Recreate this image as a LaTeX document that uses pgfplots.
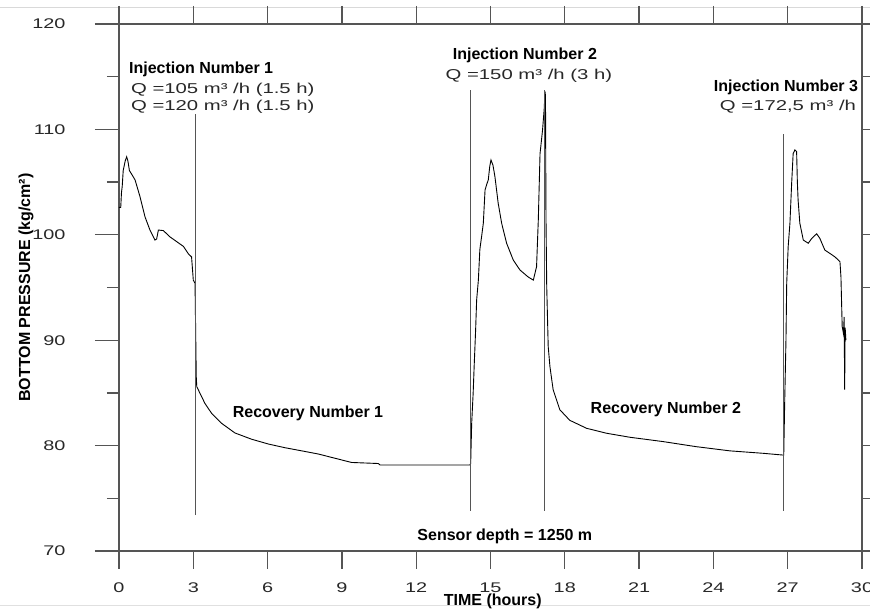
\documentclass[border=0pt]{standalone}
\usepackage{fontspec}
\setmainfont{Liberation Sans}
\newfontfamily\widefont[FakeStretch=1.42]{Liberation Sans}
\usepackage{pgfplots}
\pgfplotsset{compat=1.18}
\definecolor{axgray}{RGB}{85,85,85}
\definecolor{txtgray}{RGB}{40,40,40}
\begin{document}
\begin{tikzpicture}
\useasboundingbox (-119pt,-58pt) rectangle (751pt,551pt);
\clip (-119pt,-58pt) rectangle (751pt,551pt);
\fill[white] (-119pt,-58pt) rectangle (751pt,551pt);
\draw[black!15, line width=1pt] (-119pt,543pt) -- (751pt,543pt);
\draw[black!12, line width=1pt] (-119pt,-55pt) -- (751pt,-55pt);
\begin{axis}[
  at={(0pt,0pt)}, anchor=south west,
  scale only axis, width=743pt, height=527pt,
  xmin=0, xmax=30, ymin=70, ymax=120,
  xtick={0,3,...,30}, ytick={70,80,...,120},
  minor ytick={75,85,...,115},
  tick align=outside,
  axis line style={axgray, line width=1.3pt},
  every tick/.style={axgray, line width=1.3pt},
  major tick length=18pt, minor tick length=12pt,
  ytick style={/pgfplots/major tick length=24pt, /pgfplots/minor tick length=12pt},
  /pgf/number format/assume math mode=true,
  ticklabel style={font=\widefont\fontsize{14}{16}\selectfont, text=txtgray},
  yticklabel style={anchor=east, xshift=-32pt},
  xticklabel style={anchor=north, yshift=-10pt},
  xlabel={TIME (hours)},
  ylabel={BOTTOM PRESSURE (kg/cm²)},
  every axis x label/.style={at={(axis description cs:0.503,0)}, anchor=base, yshift=-55pt, font=\bfseries\fontsize{16}{19}\selectfont, text=black},
  every axis y label/.style={at={(axis description cs:-0.125,0.5)}, rotate=90, anchor=center, font=\bfseries\fontsize{16}{19}\selectfont, text=black},
  clip=false,
]
\addplot[black, line width=0.9pt] coordinates {
(0,102.6)(0.07,102.6)(0.1,104.0)(0.13,104.6)(0.17,106.1)(0.25,107.0)(0.31,107.4)(0.36,107.0)(0.42,106.1)(0.55,105.6)(0.65,105.2)(0.85,103.6)(1.05,101.7)(1.25,100.45)(1.45,99.5)(1.52,99.6)(1.59,100.45)(1.79,100.4)(2.06,99.8)(2.33,99.35)(2.6,98.9)(2.8,98.2)(2.93,97.9)(3.0,95.7)(3.07,95.4)(3.1,90)(3.12,86.5)(3.14,85.6)(3.27,84.96)(3.47,84.0)(3.74,83.06)(4.15,82.1)(4.68,81.2)(5.36,80.6)(6.03,80.15)(6.7,79.8)(7.38,79.5)(8.05,79.2)(8.72,78.8)(9.39,78.4)(10.47,78.3)(10.54,78.16)(14.17,78.16)
(14.2,78.3)(14.21,79.3)(14.24,82.1)(14.3,85.0)(14.34,87.5)(14.4,91.0)(14.44,93.8)(14.51,95.7)(14.57,98.6)(14.65,100.0)(14.71,101.1)(14.78,104.25)(14.85,104.8)(14.91,105.2)(14.97,106.5)(15.02,107.1)(15.1,106.6)(15.18,105.5)(15.31,103.0)(15.45,101.1)(15.65,99.2)(15.92,97.6)(16.19,96.66)(16.52,96.0)(16.73,95.7)(16.86,96.98)(16.93,101.4)(17.0,107.7)(17.1,109.9)(17.17,112.0)(17.2,113.6)(17.22,113.2)(17.24,101.7)(17.27,95.1)(17.33,89.4)(17.4,87.5)(17.47,86.3)(17.53,85.3)(17.8,83.4)(18.2,82.4)(18.88,81.64)(19.69,81.17)(20.63,80.79)(21.97,80.38)(23.3,79.9)(24.67,79.5)(26.0,79.27)(26.82,79.1)
(26.84,79.1)(26.88,84.3)(26.93,90)(26.96,95.4)(27.02,98.9)(27.09,101.1)(27.16,104.9)(27.22,107.7)(27.29,108.05)(27.36,107.9)(27.39,105)(27.42,103.3)(27.49,101.1)(27.63,99.5)(27.83,99.2)(27.97,99.65)(28.17,100.1)(28.3,99.65)(28.5,98.55)(28.7,98.24)(28.91,97.9)(29.11,97.45)(29.15,96.0)(29.2,91.3)(29.25,90.65)(29.28,92.2)(29.3,85.3)(29.32,91.2)(29.35,90.0)
};
\addplot[axgray, line width=0.9pt] coordinates {(3.10,73.4) (3.10,111.5)};
\addplot[axgray, line width=0.9pt] coordinates {(14.20,73.8) (14.20,113.7)};
\addplot[axgray, line width=0.9pt] coordinates {(17.17,73.8) (17.17,113.7)};
\addplot[axgray, line width=0.9pt] coordinates {(26.82,73.8) (26.82,109.6)};
\tikzset{bl/.style={font=\bfseries\fontsize{16}{19}\selectfont, inner sep=0pt},
         rg/.style={font=\widefont\fontsize{14.3}{17}\selectfont, text=txtgray, inner sep=0pt}}
\node[bl, anchor=base west] at (axis cs:0.40,115.35) {Injection Number 1};
\node[rg, anchor=base west] at (axis cs:0.48,113.45) {Q =105 m³ /h (1.5 h)};
\node[rg, anchor=base west] at (axis cs:0.48,111.84) {Q =120 m³ /h (1.5 h)};
\node[bl, anchor=base] at (axis cs:16.39,116.59) {Injection Number 2};
\node[rg, anchor=base] at (axis cs:16.55,114.69) {Q =150 m³ /h (3 h)};
\node[bl, anchor=base] at (axis cs:26.93,113.55) {Injection Number 3};
\node[rg, anchor=base] at (axis cs:27.01,111.84) {Q =172,5 m³ /h};
\node[bl, anchor=base] at (axis cs:7.63,82.71) {Recovery Number 1};
\node[bl, anchor=base] at (axis cs:22.08,83.09) {Recovery Number 2};
\node[bl, anchor=base] at (axis cs:15.58,71.04) {Sensor depth = 1250 m};
\end{axis}
\end{tikzpicture}
\end{document}
